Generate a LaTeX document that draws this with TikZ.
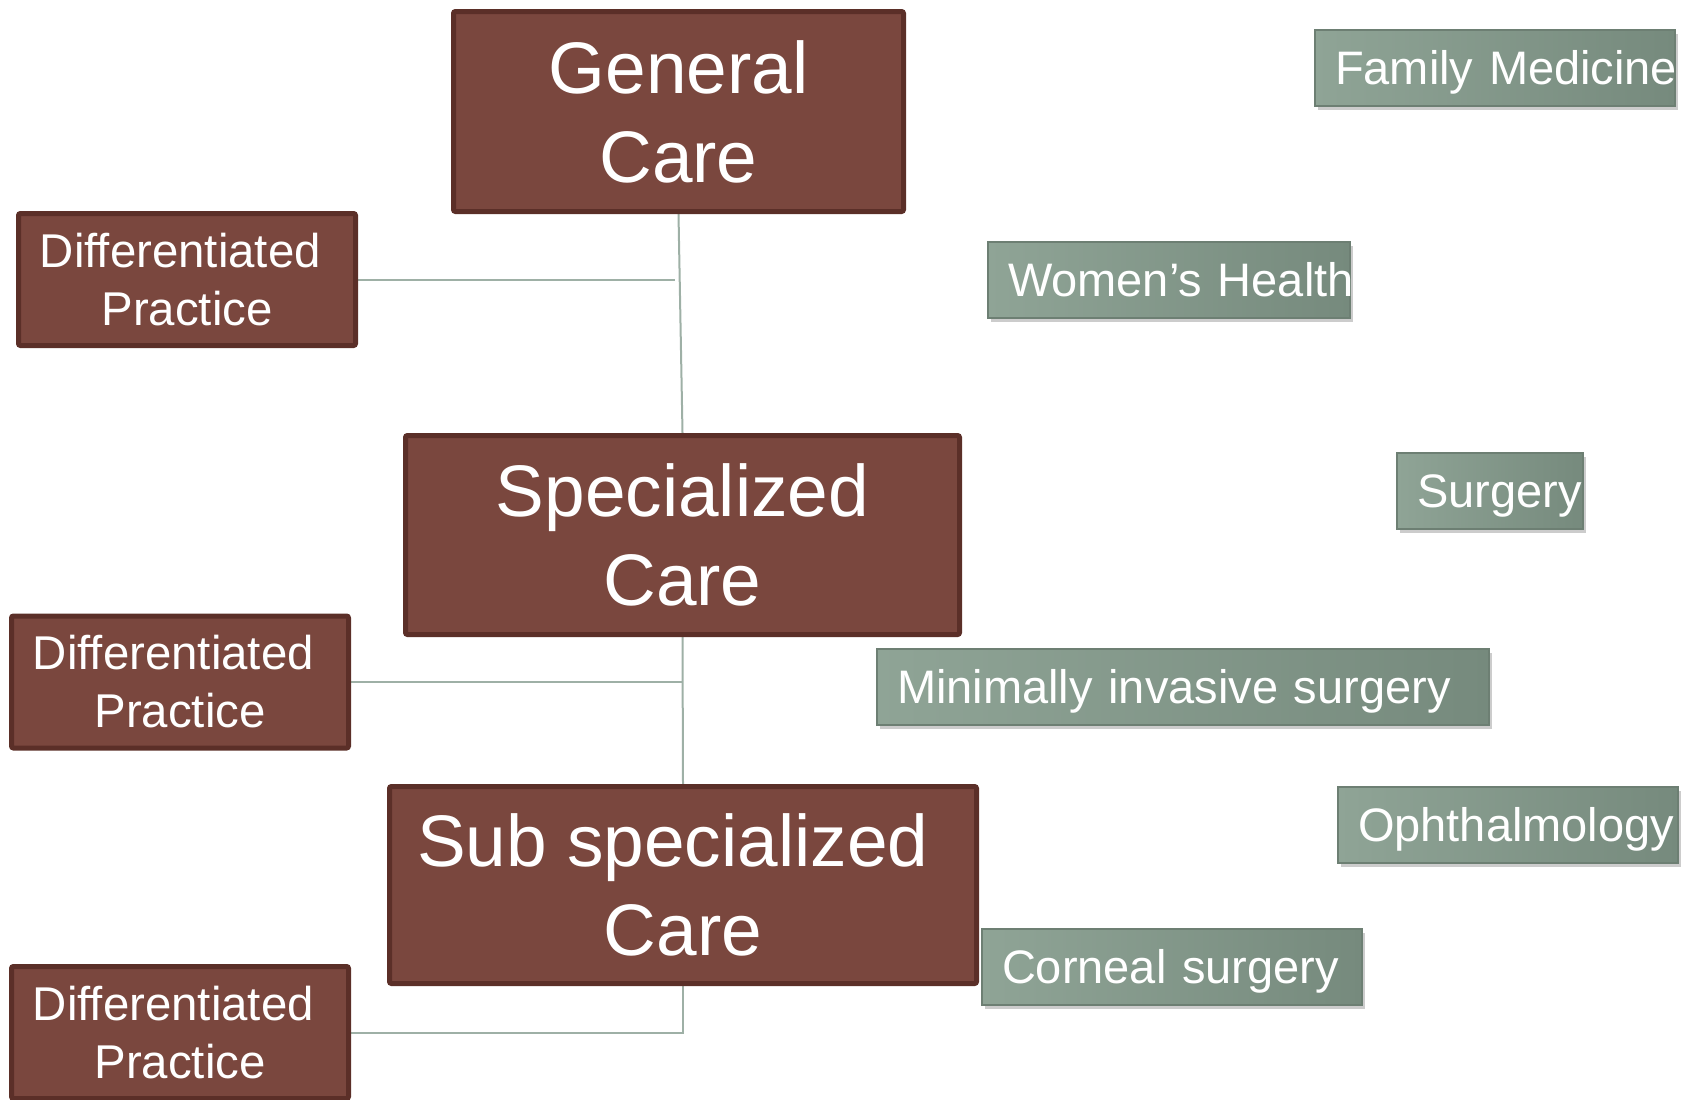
\documentclass[tikz,border=0pt]{standalone}
\usepackage{fontspec}
\setmainfont{Liberation Sans}
\usetikzlibrary{shadows,backgrounds}
\definecolor{careBrown}{HTML}{7A473E}
\definecolor{careEdge}{HTML}{5B2F28}
\definecolor{tagLeft}{HTML}{8FA496}
\definecolor{tagRight}{HTML}{768A7D}
\definecolor{tagEdge}{HTML}{6D7F73}
\definecolor{linkGray}{HTML}{9EB0A6}

\begin{document}
\begin{tikzpicture}[x=0.5pt,y=-0.5pt,
    level/.style={draw=careEdge, line width=2.5pt, fill=careBrown, rounded corners=1pt,
      text=white, align=center, inner sep=0pt, font=\fontsize{36.5}{44.5}\selectfont},
    practice/.style={level, minimum width=168.5pt, minimum height=66pt,
      font=\fontsize{23.7}{29}\selectfont},
    tag/.style={draw=tagEdge, line width=0.75pt, left color=tagLeft, right color=tagRight,
      text=white, align=left, inner xsep=10pt, inner ysep=0pt, minimum height=38pt,
      text height=16.8pt, text depth=0pt, font=\fontsize{23.5}{28}\selectfont,
      drop shadow={shadow xshift=1.5pt, shadow yshift=-2pt, opacity=0.4}},
    link/.style={draw=linkGray, line width=1pt}]
        \useasboundingbox (0,0) rectangle (1686,1099);
        \node[level, minimum width=225pt, minimum height=100pt] (gen) at (678.5,111.5) {General\\Care};
        \node[level, minimum width=277pt, minimum height=99.5pt] (spec) at (682.5,535) {Specialized\\Care};
        \node[level, minimum width=293.5pt, minimum height=98.5pt] (sub) at (683,885) {Sub specialized\hspace*{0.28em}\\Care};
        \node[practice] (dp1) at (187,279.5) {Differentiated\hspace*{0.28em}\\Practice};
        \node[practice] (dp2) at (180,682) {Differentiated\hspace*{0.28em}\\Practice};
        \node[practice] (dp3) at (180,1032.5) {Differentiated\hspace*{0.28em}\\Practice};
        \node[tag, text width=160pt] (fam) at (1495,68) {Family~Medicine};
        \node[tag, text width=161pt] (wom) at (1169,280) {Women’s~Health};
        \node[tag, text width=73pt] (surg) at (1490,491) {Surgery};
        \node[tag, text width=286pt] (mis) at (1183,687) {Minimally~invasive~surgery};
        \node[tag, text width=150pt] (oph) at (1508,825) {Ophthalmology};
        \node[tag, text width=170pt] (corn) at (1172,967) {Corneal~surgery};
        \coordinate (j1) at (675,279.5);
        \begin{scope}[on background layer]
            \draw[link] (gen.south) -- (spec.north);
            \draw[link] (dp1.east) -- (j1);
            \draw[link] (spec.south) -- (sub.north);
            \draw[link] (dp2.east) -- (spec.south |- dp2.east);
            \draw[link] (sub.south) |- (dp3.east);
        \end{scope}
    \end{tikzpicture}
\end{document}
